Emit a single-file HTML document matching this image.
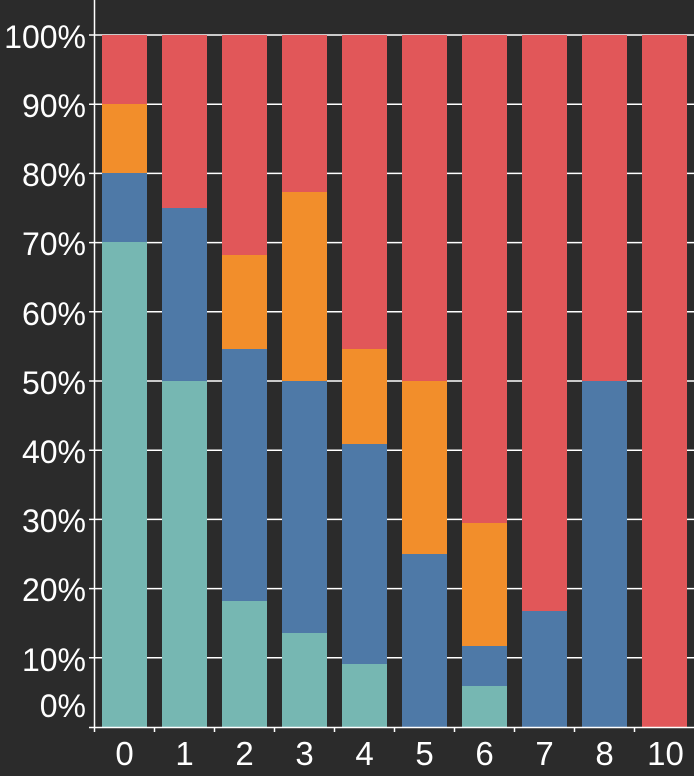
<!DOCTYPE html>
<html><head><style>html,body{margin:0;padding:0;background:#2b2b2b;}svg{display:block}</style></head>
<body>
<svg width="694" height="776" xmlns="http://www.w3.org/2000/svg" font-family="Liberation Sans, sans-serif">
<rect width="694" height="776" fill="#2b2b2b"/>
<g stroke="#ffffff" stroke-width="1.5">
<line x1="89" y1="35" x2="694" y2="35"/>
<line x1="89" y1="104.2" x2="694" y2="104.2"/>
<line x1="89" y1="173.4" x2="694" y2="173.4"/>
<line x1="89" y1="242.6" x2="694" y2="242.6"/>
<line x1="89" y1="311.8" x2="694" y2="311.8"/>
<line x1="89" y1="381" x2="694" y2="381"/>
<line x1="89" y1="450.2" x2="694" y2="450.2"/>
<line x1="89" y1="519.4" x2="694" y2="519.4"/>
<line x1="89" y1="588.6" x2="694" y2="588.6"/>
<line x1="89" y1="657.8" x2="694" y2="657.8"/>
</g>
<g>
<rect x="102" y="35" width="45" height="69" fill="#e15759"/>
<rect x="102" y="104" width="45" height="69" fill="#f28e2b"/>
<rect x="102" y="173" width="45" height="69" fill="#4e79a7"/>
<rect x="102" y="242" width="45" height="485" fill="#76b7b2"/>
<rect x="162" y="35" width="45" height="173" fill="#e15759"/>
<rect x="162" y="208" width="45" height="173" fill="#4e79a7"/>
<rect x="162" y="381" width="45" height="346" fill="#76b7b2"/>
<rect x="222" y="35" width="45" height="220" fill="#e15759"/>
<rect x="222" y="255" width="45" height="94" fill="#f28e2b"/>
<rect x="222" y="349" width="45" height="252" fill="#4e79a7"/>
<rect x="222" y="601" width="45" height="126" fill="#76b7b2"/>
<rect x="282" y="35" width="45" height="157" fill="#e15759"/>
<rect x="282" y="192" width="45" height="189" fill="#f28e2b"/>
<rect x="282" y="381" width="45" height="252" fill="#4e79a7"/>
<rect x="282" y="633" width="45" height="94" fill="#76b7b2"/>
<rect x="342" y="35" width="45" height="314" fill="#e15759"/>
<rect x="342" y="349" width="45" height="95" fill="#f28e2b"/>
<rect x="342" y="444" width="45" height="220" fill="#4e79a7"/>
<rect x="342" y="664" width="45" height="63" fill="#76b7b2"/>
<rect x="402" y="35" width="45" height="346" fill="#e15759"/>
<rect x="402" y="381" width="45" height="173" fill="#f28e2b"/>
<rect x="402" y="554" width="45" height="173" fill="#4e79a7"/>
<rect x="462" y="35" width="45" height="488" fill="#e15759"/>
<rect x="462" y="523" width="45" height="123" fill="#f28e2b"/>
<rect x="462" y="646" width="45" height="40" fill="#4e79a7"/>
<rect x="462" y="686" width="45" height="41" fill="#76b7b2"/>
<rect x="522" y="35" width="45" height="576" fill="#e15759"/>
<rect x="522" y="611" width="45" height="116" fill="#4e79a7"/>
<rect x="582" y="35" width="45" height="346" fill="#e15759"/>
<rect x="582" y="381" width="45" height="346" fill="#4e79a7"/>
<rect x="642" y="35" width="45" height="692" fill="#e15759"/>
</g>
<g stroke="#ffffff" stroke-width="1.5">
<line x1="94.5" y1="0" x2="94.5" y2="728"/>
<line x1="89" y1="727.5" x2="694" y2="727.5"/>
<line x1="94.5" y1="727" x2="94.5" y2="732"/>
<line x1="154.5" y1="727" x2="154.5" y2="732"/>
<line x1="214.5" y1="727" x2="214.5" y2="732"/>
<line x1="274.5" y1="727" x2="274.5" y2="732"/>
<line x1="334.5" y1="727" x2="334.5" y2="732"/>
<line x1="394.5" y1="727" x2="394.5" y2="732"/>
<line x1="454.5" y1="727" x2="454.5" y2="732"/>
<line x1="514.5" y1="727" x2="514.5" y2="732"/>
<line x1="574.5" y1="727" x2="574.5" y2="732"/>
<line x1="634.5" y1="727" x2="634.5" y2="732"/>
</g>
<g fill="#ffffff" font-size="32" text-anchor="end">
<text x="86" y="48">100%</text>
<text x="86" y="117">90%</text>
<text x="86" y="186">80%</text>
<text x="86" y="255">70%</text>
<text x="86" y="325">60%</text>
<text x="86" y="394">50%</text>
<text x="86" y="463">40%</text>
<text x="86" y="532">30%</text>
<text x="86" y="601">20%</text>
<text x="86" y="671">10%</text>
<text x="86" y="717">0%</text>
</g>
<g fill="#ffffff" font-size="33" text-anchor="middle">
<text x="124.5" y="765">0</text>
<text x="184.5" y="765">1</text>
<text x="244.5" y="765">2</text>
<text x="304.5" y="765">3</text>
<text x="364.5" y="765">4</text>
<text x="424.5" y="765">5</text>
<text x="484.5" y="765">6</text>
<text x="544.5" y="765">7</text>
<text x="604.5" y="765">8</text>
<text x="665.5" y="765">10</text>
</g>
</svg>
</body></html>
